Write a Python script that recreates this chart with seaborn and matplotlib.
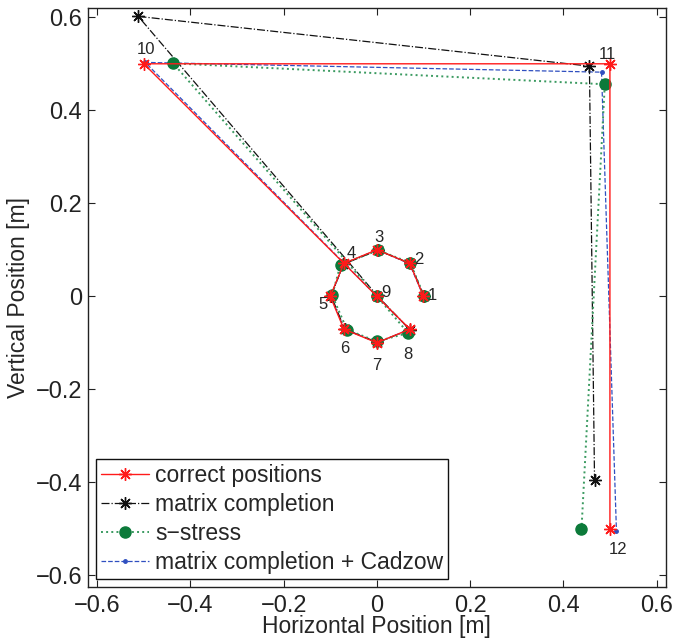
import numpy as np
import pandas as pd
import matplotlib
matplotlib.use("Agg")
import matplotlib.pyplot as plt
import seaborn as sns

# point ids 1..12, path goes 1 -> 12
point_ids = [1, 2, 3, 4, 5, 6, 7, 8, 9, 10, 11, 12]

correct_x = [0.1, 0.0707, 0.0, -0.0707, -0.1, -0.0707, 0.0, 0.0707, 0.0, -0.5, 0.5, 0.5]
correct_y = [0.0, 0.0707, 0.1, 0.0707, 0.0, -0.0707, -0.1, -0.0707, 0.0, 0.5, 0.5, -0.5]

mc_x = [0.101, 0.071, 0.002, -0.072, -0.098, -0.069, 0.001, 0.071, 0.001, -0.512, 0.456, 0.467]
mc_y = [0.001, 0.071, 0.099, 0.069, 0.001, -0.071, -0.099, -0.072, 0.001, 0.602, 0.495, -0.396]

ss_x = [0.101, 0.072, 0.003, -0.078, -0.096, -0.064, 0.0, 0.067, 0.0, -0.437, 0.489, 0.439]
ss_y = [0.0, 0.072, 0.099, 0.068, 0.002, -0.072, -0.097, -0.079, 0.0, 0.501, 0.456, -0.501]

mcc_x = [0.100, 0.070, 0.001, -0.071, -0.099, -0.070, 0.001, 0.070, 0.0, -0.497, 0.482, 0.514]
mcc_y = [0.0, 0.070, 0.100, 0.070, 0.0, -0.070, -0.100, -0.071, 0.0, 0.503, 0.482, -0.505]

series_names = ["correct positions", "matrix completion", "s\u2212stress",
                "matrix completion + Cadzow"]

df = pd.concat([
    pd.DataFrame({"point": point_ids, "x": correct_x, "y": correct_y, "method": series_names[0]}),
    pd.DataFrame({"point": point_ids, "x": mc_x, "y": mc_y, "method": series_names[1]}),
    pd.DataFrame({"point": point_ids, "x": ss_x, "y": ss_y, "method": series_names[2]}),
    pd.DataFrame({"point": point_ids, "x": mcc_x, "y": mcc_y, "method": series_names[3]}),
])

# label offsets (pixels) from the correct positions
label_offsets = [(9, 1), (9, 4), (2, 12), (7, 10), (-7, -8), (1, -19), (0, -23),
                 (-2, -25), (9, 4), (2, 14), (-3, 9), (8, -21)]

sns.set_style("ticks")
plt.rcParams["font.family"] = ["Liberation Sans", "DejaVu Sans"]

fig, ax = plt.subplots(figsize=(6.76, 6.4), dpi=100)
fig.subplots_adjust(left=0.130, right=0.985, bottom=0.083, top=0.9875)

asterisk = (8, 2, 0)
styles = {
    series_names[0]: dict(color="#ff1a1a", linestyle="-", marker=asterisk, markersize=9,
                          markeredgecolor="#ff1a1a", markeredgewidth=1, linewidth=1.0, zorder=5),
    series_names[1]: dict(color="#111111", linestyle="-.", marker=asterisk, markersize=9,
                          markeredgecolor="#111111", markeredgewidth=1, linewidth=0.9, zorder=3),
    series_names[2]: dict(color="#3a9a60", linestyle=":", marker="o", markersize=8,
                          markerfacecolor="#0c7a3a", markeredgecolor="#0c7a3a",
                          markeredgewidth=1, linewidth=1.4, zorder=4),
    series_names[3]: dict(color="#2f4fc0", linestyle="--", marker=".", markersize=5,
                          markeredgecolor="#2f4fc0", markeredgewidth=1, linewidth=0.9, zorder=2),
}

for name in series_names:
    sub = df[df["method"] == name]
    sns.lineplot(data=sub, x="x", y="y", sort=False, estimator=None, ax=ax,
                 label=name, **styles[name])

for pid, cx, cy, off in zip(point_ids, correct_x, correct_y, label_offsets):
    ax.annotate(str(pid), (cx, cy), xytext=off, textcoords="offset pixels",
                ha="center", va="center", fontsize=12, zorder=6)

ticks = [-0.6, -0.4, -0.2, 0.0, 0.2, 0.4, 0.6]
tick_labels = ["\u22120.6", "\u22120.4", "\u22120.2", "0", "0.2", "0.4", "0.6"]
ax.set_xlim(-0.62, 0.62)
ax.set_ylim(-0.625, 0.62)
ax.set_xticks(ticks)
ax.set_xticklabels(tick_labels)
ax.set_yticks(ticks)
ax.set_yticklabels(tick_labels)
ax.tick_params(direction="in", top=True, right=True, length=5, width=0.8,
               labelsize=17, colors="#222222", pad=4)
ax.tick_params(axis="x", pad=5.5)
for sp in ax.spines.values():
    sp.set_visible(True)
    sp.set_linewidth(1.0)
    sp.set_color("#222222")

ax.set_xlabel("Horizontal Position [m]", fontsize=16.5, labelpad=-1)
ax.set_ylabel("Vertical Position [m]", fontsize=16.5, labelpad=4)

leg = ax.legend(loc="lower left", fontsize=16.5, fancybox=False, edgecolor="#111111",
                framealpha=1, borderaxespad=0.35, handlelength=2.1, labelspacing=0.26,
                borderpad=0.22, handletextpad=0.26)
leg.get_frame().set_linewidth(1.0)

plt.savefig("out.png", dpi=100)
